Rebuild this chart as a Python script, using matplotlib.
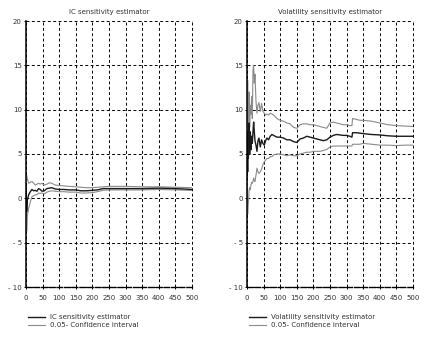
import matplotlib
matplotlib.use("Agg")
import matplotlib.pyplot as plt

# ---- data ----
ic_x = [0, 2, 4, 8, 13, 18, 23, 28, 33, 38, 43, 48, 55, 63, 70, 78, 88, 100, 115, 130,
        150, 165, 182, 200, 215, 232, 250, 280, 300, 350, 400, 450, 500]
ic_mean = [1.5, -1.5, -0.2, 0.4, 0.75, 1.0, 0.85, 0.9, 0.8, 1.1, 1.0, 0.8, 0.85, 1.1, 1.15, 1.2,
           1.05, 1.0, 1.0, 0.95, 0.95, 0.85, 0.85, 0.9, 0.95, 1.1, 1.1, 1.1, 1.1, 1.1, 1.15, 1.1, 1.0]
ic_upper = [2.0, 2.6, 2.2, 1.7, 1.8, 1.9, 1.7, 1.5, 1.6, 1.7, 1.6, 1.7, 1.5, 1.6, 1.75, 1.7,
            1.5, 1.45, 1.4, 1.35, 1.3, 1.25, 1.2, 1.2, 1.25, 1.3, 1.35, 1.35, 1.35, 1.3, 1.3, 1.25, 1.2]
ic_lower = [1.0, -3.7, -2.0, -1.1, -0.4, 0.2, 0.3, 0.4, 0.4, 0.6, 0.55, 0.6, 0.5, 0.7, 0.8, 0.85,
            0.8, 0.75, 0.75, 0.7, 0.7, 0.6, 0.6, 0.65, 0.75, 0.9, 0.95, 0.95, 0.95, 0.95, 1.0, 0.95, 0.9]

vol_x = [0, 1, 2, 3, 4, 5, 6, 8, 10, 12, 14, 16, 18, 20, 22, 24, 27, 30, 33, 36, 40, 44, 48,
         52, 56, 60, 65, 70, 75, 80, 90, 100, 110, 120, 130, 140, 150, 160, 170, 180, 190,
         200, 210, 220, 230, 240, 250, 260, 270, 280, 290, 300, 310, 316, 318, 330, 340,
         350, 375, 400, 425, 450, 475, 500]
vol_mean = [2.5, 5.8, 3.0, 7.5, 4.5, 6.0, 8.5, 5.0, 7.5, 5.5, 7.0, 6.2, 7.5, 8.6, 7.5, 6.5, 6.0,
            5.3, 6.5, 6.8, 5.8, 6.6, 6.2, 6.0, 6.5, 6.8, 6.6, 7.0, 7.2, 7.1, 6.9, 6.9, 6.8, 6.6,
            6.6, 6.4, 6.3, 6.7, 6.8, 7.0, 6.9, 6.8, 6.7, 6.6, 6.5, 6.6, 6.9, 7.1, 7.2, 7.15,
            7.1, 7.1, 7.0, 6.9, 7.4, 7.4, 7.35, 7.3, 7.2, 7.15, 7.05, 7.0, 7.0, 7.0]
vol_upper = [3.0, 9.0, 13.3, 8.0, 11.0, 7.5, 12.0, 8.0, 10.5, 9.5, 11.5, 9.0, 14.5, 15.0, 13.0,
             14.0, 11.0, 9.6, 10.5, 10.8, 9.8, 10.7, 9.8, 9.6, 9.4, 9.5, 9.4, 9.6, 9.5, 9.4,
             9.0, 8.8, 8.7, 8.5, 8.4, 8.0, 7.9, 8.3, 8.4, 8.4, 8.3, 8.3, 8.2, 8.1, 8.0, 7.9,
             8.5, 8.6, 8.5, 8.4, 8.3, 8.3, 8.2, 8.2, 9.0, 8.9, 8.8, 8.8, 8.7, 8.5, 8.3, 8.2,
             8.15, 8.1]
vol_lower = [2.0, 0.5, -1.8, -1.0, -0.5, 0.0, 0.8, 1.2, 1.0, 1.5, 1.8, 1.7, 1.9, 2.3, 2.0, 1.9,
             2.6, 3.4, 3.0, 2.8, 3.0, 3.3, 3.8, 4.1, 4.3, 4.5, 4.5, 4.7, 4.7, 4.9, 5.0, 5.0,
             4.9, 4.8, 4.9, 4.8, 4.8, 5.0, 5.1, 5.2, 5.2, 5.3, 5.3, 5.3, 5.4, 5.5, 5.8, 5.9,
             5.9, 5.9, 5.9, 5.9, 5.9, 5.9, 6.1, 6.1, 6.1, 6.2, 6.1, 6.0, 6.0, 5.95, 6.0, 6.0]

titles = ["IC sensitivity estimator", "Volatility sensitivity estimator"]
legend_labels = [["IC sensitivity estimator", "0.05- Confidence interval"],
                 ["Volatility sensitivity estimator", "0.05- Confidence interval"]]
x_ticks = [0, 50, 100, 150, 200, 250, 300, 350, 400, 450, 500]
y_ticks = [-10, -5, 0, 5, 10, 15, 20]
y_ticklabels = ["- 10", "- 5", "0", "5", "10", "15", "20"]

W, H = 430, 338
fig = plt.figure(figsize=(W / 100, H / 100), dpi=100)
plt.rcParams['font.family'] = ['DejaVu Sans']

series = [(ic_x, ic_mean, ic_upper, ic_lower), (vol_x, vol_mean, vol_upper, vol_lower)]
lefts = [26, 247]
top, bottom, width = 21, 287, 166

for i, (xs, m, up, lo) in enumerate(series):
    ax = fig.add_axes([lefts[i] / W, (H - bottom) / H, width / W, (bottom - top) / H])
    ax.plot(xs, up, color="#8a8a8a", lw=0.8)
    ax.plot(xs, lo, color="#8a8a8a", lw=0.8)
    ax.plot(xs, m, color="#1a1a1a", lw=1.0)
    ax.set_xlim(0, 500)
    ax.set_ylim(-10, 20)
    ax.set_xticks(x_ticks)
    ax.set_yticks(y_ticks)
    ax.set_yticklabels(y_ticklabels)
    ax.grid(True, color="black", lw=0.7, linestyle=(0, (3, 2.5)), clip_on=False)
    for s in ["top", "right"]:
        ax.spines[s].set_visible(False)
    ax.spines["left"].set_linewidth(1.1)
    ax.spines["bottom"].set_linewidth(1.0)
    ax.spines["bottom"].set_linestyle((0, (4, 1.5)))
    ax.tick_params(axis="both", labelsize=5, direction="inout", length=3, width=0.7,
                   colors="black", labelcolor="#333333")
    ax.tick_params(axis="x", pad=4)
    ax.tick_params(axis="y", pad=1.5)
    ax.set_title(titles[i], fontsize=5, color="#333333", pad=5)
    h1, = ax.plot([], [], color="#1a1a1a", lw=1.0)
    h2, = ax.plot([], [], color="#8a8a8a", lw=0.8)
    fig.legend([h1, h2], legend_labels[i], loc="upper left",
               bbox_to_anchor=((lefts[i] + 2) / W, (H - 314) / H), frameon=False,
               fontsize=5, handlelength=2.4, handletextpad=0.8, labelspacing=0.35,
               borderpad=0, borderaxespad=0, labelcolor="#333333")

fig.savefig("out.png", dpi=100)
